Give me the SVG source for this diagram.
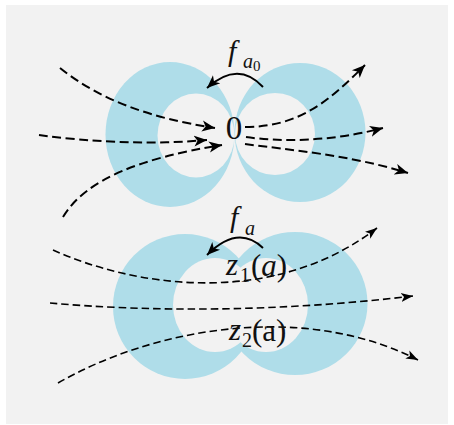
<svg xmlns="http://www.w3.org/2000/svg" width="454" height="425" viewBox="0 0 454 425">
<defs>
<style>
.bg{fill:#f2f2f2}
.blue{fill:#afdde9}
.hole{fill:#f2f2f2}
.lbl{font-family:"Liberation Serif","Times New Roman",serif;fill:#111}
.it{font-style:italic}
.up{fill:none;stroke:#000;stroke-width:2;stroke-dasharray:9 4.5}
.lo{fill:none;stroke:#000;stroke-width:1.6;stroke-dasharray:7.5 4}
.arc{fill:none;stroke:#000;stroke-width:1.9}
</style>
<marker id="ah" markerUnits="userSpaceOnUse" markerWidth="15" markerHeight="13" viewBox="0 0 15 13" refX="13" refY="6.5" orient="auto">
<path d="M0,1 L13,6.5 L0,12 L3.5,6.5 Z" fill="#000"/>
</marker>
<marker id="ahs" markerUnits="userSpaceOnUse" markerWidth="13" markerHeight="11" viewBox="0 0 13 11" refX="12" refY="5.5" orient="auto">
<path d="M0,1 L12,5.5 L0,10 L3,5.5 Z" fill="#000"/>
</marker>
</defs>
<rect class="bg" x="6" y="5" width="442" height="419"/>
<g id="blobs-top">
<ellipse class="blue" cx="170" cy="134.5" rx="64.5" ry="72.5"/>
<ellipse class="blue" cx="300" cy="132.5" rx="65.5" ry="69.5"/>
<ellipse class="hole" cx="196" cy="135.5" rx="38.5" ry="42"/>
<ellipse class="hole" cx="275" cy="134" rx="40" ry="41"/>
</g>
<g id="blobs-bottom">
<ellipse class="blue" cx="185" cy="306.5" rx="72" ry="72.5"/>
<ellipse class="blue" cx="295" cy="303.5" rx="72.5" ry="71.5"/>
<ellipse class="hole" cx="215" cy="305" rx="42" ry="47"/>
<ellipse class="hole" cx="266" cy="305" rx="42" ry="47"/>
</g>
<g id="connectors">
<path class="up" d="M60,68 C100,100 150,118 215,128" marker-end="url(#ah)"/>
<path class="up" d="M39,135 C90,142 150,145 207,140" marker-end="url(#ah)"/>
<path class="up" d="M63,217 C85,180 140,158 222,145" marker-end="url(#ah)"/>
<path class="up" d="M245,127 C300,127 330,100 365,65" marker-end="url(#ah)"/>
<path class="up" d="M246,137 C280,142 330,142 383,128" marker-end="url(#ah)"/>
<path class="up" d="M245,144 C290,150 350,155 408,173" marker-end="url(#ah)"/>
<path class="arc" d="M263,87 Q238,60 207,88" marker-end="url(#ah)"/>
<path class="lo" d="M53,250 C130,285 270,310 377,228" marker-end="url(#ahs)"/>
<path class="lo" d="M50,303 C150,312 280,312 413,296" marker-end="url(#ahs)"/>
<path class="lo" d="M58,383 C150,330 300,300 418,360" marker-end="url(#ahs)"/>
<path class="arc" d="M263,248 Q238,224 207,255" marker-end="url(#ah)"/>
</g>
<g id="label-fa0" class="lbl">
<text x="228" y="61" font-size="30" class="it">f</text>
<text x="243" y="68" font-size="20" class="it">a</text>
<text x="253" y="71" font-size="15">0</text>
</g>
<g id="label-0" class="lbl">
<text x="234" y="139" font-size="33" text-anchor="middle">0</text>
</g>
<g id="label-fa" class="lbl">
<text x="230" y="227" font-size="30" class="it">f</text>
<text x="245" y="235" font-size="20" class="it">a</text>
</g>
<g id="label-z1" class="lbl">
<text x="226" y="275" font-size="31" class="it">z</text>
<text x="240" y="282" font-size="20">1</text>
<text x="251" y="276" font-size="31">(<tspan class="it">a</tspan>)</text>
</g>
<g id="label-z2" class="lbl">
<text x="229" y="340" font-size="31" class="it">z</text>
<text x="242" y="347" font-size="20">2</text>
<text x="252" y="341" font-size="31">(a)</text>
</g>
</svg>
